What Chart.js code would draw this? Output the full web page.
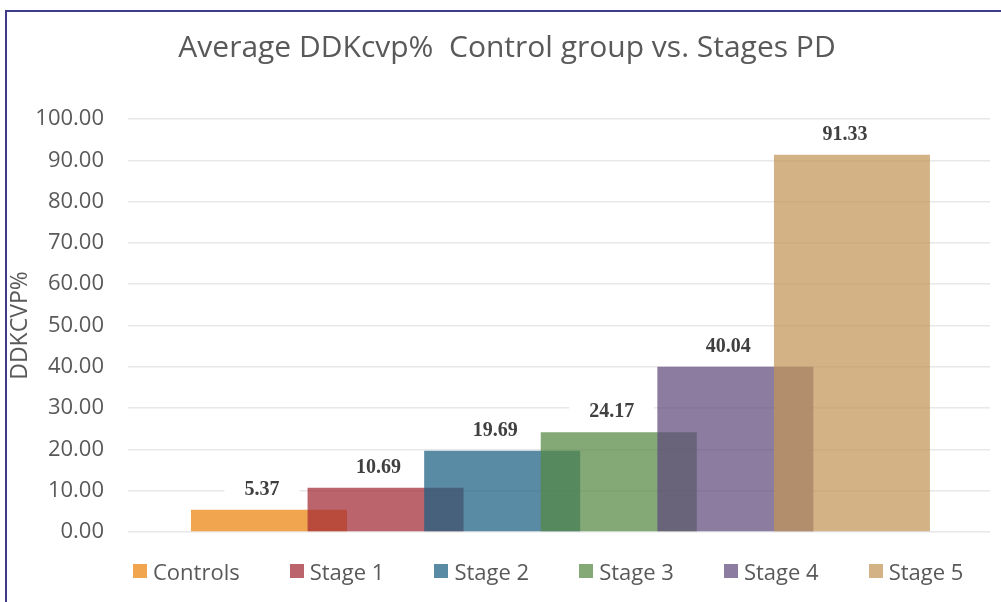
<!DOCTYPE html>
<html>
<head>
<meta charset="utf-8">
<script src="https://cdn.jsdelivr.net/npm/chart.js@4"></script>
<style>
    body { margin: 0; background: #fff; }
    #wrap { position: relative; width: 1001px; height: 602px; overflow: hidden; }
    #frame {
        position: absolute; left: 5px; top: 10px; right: -2px; bottom: -2px;
        border-top: 2px solid #3e3c86; border-left: 2px solid #3e3c86;
    }
    #chart { position: absolute; left: 0; top: 0; }
    #legend {
        position: absolute; left: 133px; top: 556px; height: 30px;
        display: flex; align-items: center;
        font-family: "Open Sans", sans-serif; font-size: 22px; color: #595959;
    }
    .item { display: flex; align-items: center; margin-right: 50px; white-space: nowrap; }
    .box { width: 14px; height: 14px; margin-right: 6px; }
</style>
</head>
<body>
<div id="wrap">
    <div id="frame"></div>
    <canvas id="chart" width="1001" height="602"></canvas>
    <div id="legend"></div>
</div>
<script>
// chart data
const categories = ['Controls', 'Stage 1', 'Stage 2', 'Stage 3', 'Stage 4', 'Stage 5'];
const values = [5.37, 10.69, 19.69, 24.17, 40.04, 91.33];
const colors = [
    'rgba(236, 130, 11, 0.72)',   // orange
    'rgba(162, 40, 51, 0.72)',    // red
    'rgba(27, 94, 130, 0.72)',    // blue
    'rgba(84, 136, 66, 0.72)',    // green
    'rgba(95, 74, 123, 0.72)',    // purple
    'rgba(194, 149, 87, 0.72)'    // tan
];
const yMin = 0;
const yMax = 100;
const yStep = 10;

const textGrey = '#595959';
const labelFont = 'bold 20px "Liberation Serif", serif';

// value labels above the bars, with a white patch hiding the grid behind them
const valueLabels = {
    id: 'valueLabels',
    beforeDatasetsDraw(chart) {
        const ctx = chart.ctx;
        ctx.save();
        ctx.font = labelFont;
        ctx.fillStyle = '#ffffff';
        chart.data.datasets.forEach((ds, i) => {
            const bar = chart.getDatasetMeta(i).data[0];
            const text = values[i].toFixed(2);
            const w = ctx.measureText(text).width;
            ctx.fillRect(bar.x - 7 - w / 2 - 20, bar.y - 32, w + 40, 24);
        });
        ctx.restore();
    },
    afterDatasetsDraw(chart) {
        const ctx = chart.ctx;
        ctx.save();
        ctx.font = labelFont;
        ctx.fillStyle = '#404040';
        ctx.textAlign = 'center';
        ctx.textBaseline = 'middle';
        chart.data.datasets.forEach((ds, i) => {
            const bar = chart.getDatasetMeta(i).data[0];
            ctx.fillText(values[i].toFixed(2), bar.x - 7, bar.y - 20);
        });
        ctx.restore();
    }
};

// later stages are painted over the earlier ones
const datasets = categories.map((name, i) => ({
    label: name,
    data: [{ x: i, y: values[i] }],
    backgroundColor: colors[i],
    borderWidth: 0,
    order: categories.length - i,
    grouped: false,
    categoryPercentage: 1,
    barPercentage: 1.338
}));

const chart = new Chart(document.getElementById('chart'), {
    type: 'bar',
    data: { datasets: datasets },
    options: {
        responsive: false,
        animation: false,
        devicePixelRatio: 1,
        layout: { padding: { left: 24, right: 11, top: 0, bottom: 70 } },
        plugins: {
            legend: { display: false },
            tooltip: { enabled: false },
            title: {
                display: true,
                text: 'Average DDKcvp%  Control group vs. Stages PD',
                color: textGrey,
                font: { family: 'Open Sans', size: 30, weight: 'normal' },
                padding: { top: 30, bottom: 53 }
            }
        },
        scales: {
            x: {
                type: 'linear',
                display: false,
                min: -1.209,
                max: 6.184,
                afterBuildTicks: s => { s.ticks = []; }
            },
            y: {
                min: yMin,
                max: yMax,
                afterFit: s => { s.width = 104; },
                ticks: {
                    stepSize: yStep,
                    padding: 24,
                    color: textGrey,
                    font: { family: 'Open Sans', size: 22 },
                    callback: v => v.toFixed(2)
                },
                grid: { color: '#e8e8e8', lineWidth: 1.5, drawTicks: false },
                border: { display: false },
                title: {
                    display: true,
                    text: 'DDKCVP%',
                    color: textGrey,
                    font: { family: 'Open Sans', size: 23 },
                    padding: { top: -17.3, bottom: 0 }
                }
            }
        }
    },
    plugins: [valueLabels]
});

// html legend built from the same arrays
const legendEl = document.getElementById('legend');
categories.forEach((name, i) => {
    const item = document.createElement('div');
    item.className = 'item';
    const box = document.createElement('span');
    box.className = 'box';
    box.style.background = colors[i];
    const label = document.createElement('span');
    label.textContent = name;
    item.appendChild(box);
    item.appendChild(label);
    legendEl.appendChild(item);
});
</script>
</body>
</html>
